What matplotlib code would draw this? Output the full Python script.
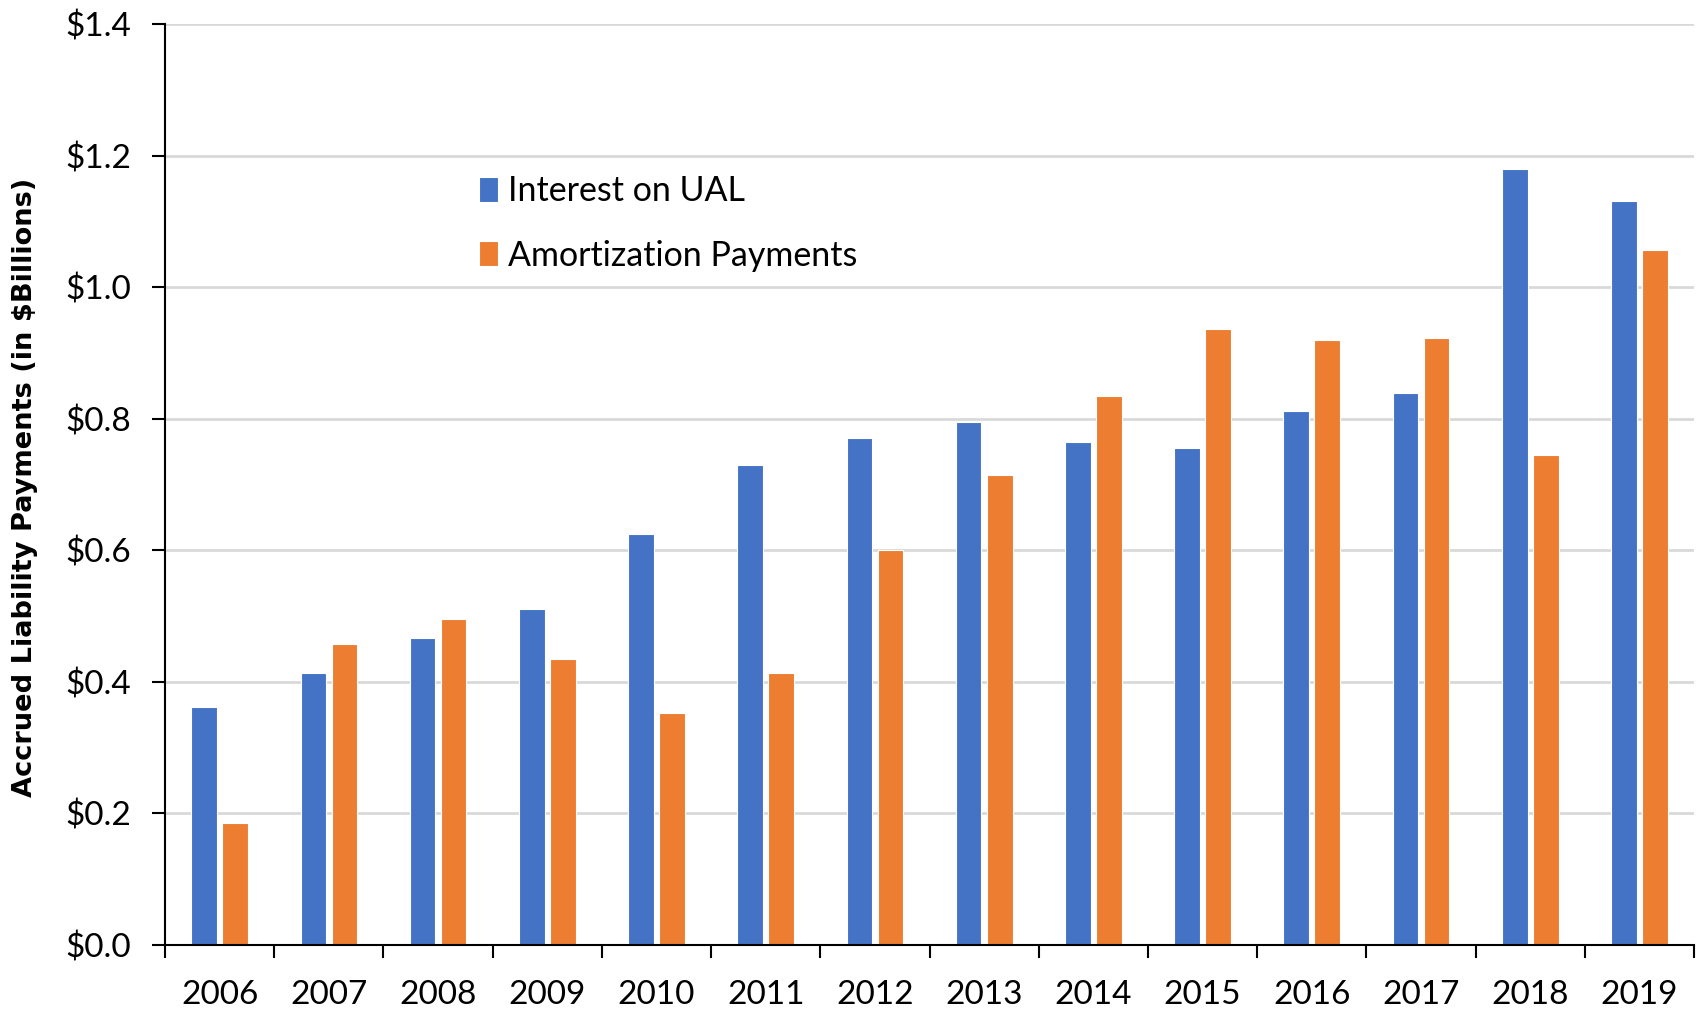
import numpy as np
import matplotlib.pyplot as plt
from matplotlib.ticker import FuncFormatter, MultipleLocator

years = ["2006", "2007", "2008", "2009", "2010", "2011", "2012",
         "2013", "2014", "2015", "2016", "2017", "2018", "2019"]
interest_ual = [0.361, 0.414, 0.467, 0.511, 0.625, 0.729, 0.770,
                0.795, 0.764, 0.755, 0.811, 0.839, 1.179, 1.131]
amortization = [0.186, 0.458, 0.495, 0.435, 0.353, 0.414, 0.600,
                0.714, 0.834, 0.937, 0.920, 0.923, 0.745, 1.057]

blue = "#4472C4"
orange = "#ED7D31"

plt.rcParams["font.family"] = ["Lato", "DejaVu Sans"]

fig = plt.figure(figsize=(17, 10.11), dpi=100)
ax = fig.add_axes([0.0971, 0.0653, 0.8994, 0.911])

x = np.arange(len(years))
w = 0.235
ax.bar(x - 0.142, interest_ual, w, color=blue, edgecolor="white", linewidth=0.8,
       label="Interest on UAL", zorder=3)
ax.bar(x + 0.142, amortization, w, color=orange, edgecolor="white", linewidth=0.8,
       label="Amortization Payments", zorder=3)

ax.set_xlim(-0.5, len(years) - 0.5)
ax.set_ylim(0, 1.4)
ax.yaxis.set_major_locator(MultipleLocator(0.2))
ax.yaxis.set_major_formatter(FuncFormatter(lambda v, p: f"${v:.1f}"))
ax.grid(axis="y", color="#d9d9d9", linewidth=2, zorder=0)

ax.set_xticks(x)
ax.set_xticklabels(years)
ax.set_xticks(np.arange(-0.5, len(years)), minor=True)
ax.tick_params(axis="x", which="major", length=0, pad=25, labelsize=24)
ax.tick_params(axis="x", which="minor", length=9.5, width=1.5)
ax.tick_params(axis="y", length=9.5, width=1.5, pad=15, labelsize=24)

for s in ["top", "right"]:
    ax.spines[s].set_visible(False)
for s in ["left", "bottom"]:
    ax.spines[s].set_linewidth(1.5)
    ax.spines[s].set_zorder(4)

fig.text(0.015, 0.518, "Accrued Liability Payments (in $Billions)", rotation=90,
         fontsize=19.6, fontweight="bold", family=["DejaVu Sans"],
         ha="center", va="center")

ax.legend(loc="upper left", bbox_to_anchor=(0.264, 0.857), bbox_transform=fig.transFigure,
          frameon=False, fontsize=24.5, handlelength=0.55, handleheight=0.75,
          handletextpad=0.3, labelspacing=0.95)

fig.savefig("out.png", dpi=100)
